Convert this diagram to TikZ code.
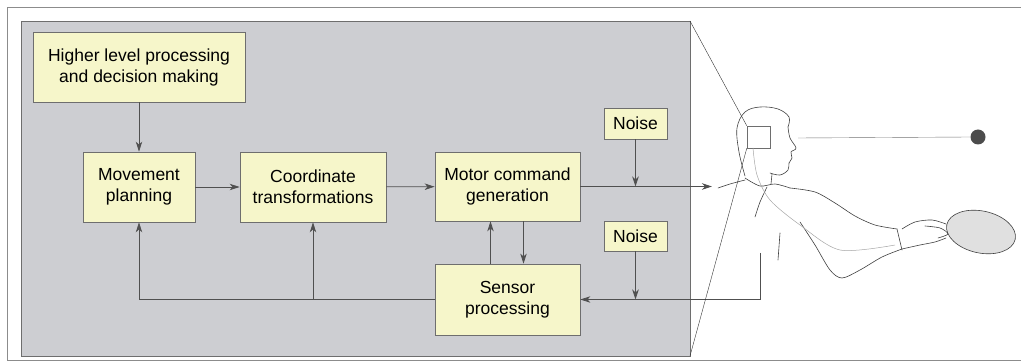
\documentclass[tikz,border=0pt]{standalone}
\usepackage{fontspec}
\setmainfont{Liberation Sans}
\usepackage{tikz}
\usetikzlibrary{arrows.meta}

\definecolor{panelgray}{RGB}{205,206,210}
\definecolor{boxyellow}{RGB}{246,246,202}
\definecolor{edgegray}{RGB}{110,110,110}
\definecolor{linegray}{RGB}{80,80,80}

\begin{document}
\begin{tikzpicture}[x=1pt, y=-1pt,
	block/.style={draw=edgegray, thick, fill=boxyellow, inner sep=0pt, align=center, font=\fontsize{17.5}{21}\selectfont},
	arr/.style={draw=linegray, thick, -{Stealth[length=10pt, width=6.5pt, inset=3pt]}},
	sketch/.style={draw=black!75, line width=0.6pt, line cap=round, line join=round}]
	\useasboundingbox (0,0) rectangle (1021,363);

	% frame and panel
	\draw[black!45] (1030,7) -- (7,7) -- (7,360) -- (1030,360);
	\draw[edgegray, thick, fill=panelgray] (21,21) rectangle (690,356);

	% blocks
	\node[block, minimum width=212pt, minimum height=70pt] (high) at (139,67) {Higher level processing\\and decision making};
	\node[block, minimum width=112pt, minimum height=70pt] (move) at (139,187) {Movement\\planning};
	\node[block, minimum width=146pt, minimum height=70pt] (coord) at (313,187) {Coordinate\\transformations};
	\node[block, minimum width=145pt, minimum height=69pt] (motor) at (507.5,186.5) {Motor command\\generation};
	\node[block, minimum width=145pt, minimum height=71pt] (sens) at (507.5,299.5) {Sensor\\processing};
	\node[block, minimum width=63pt, minimum height=31pt] (noiseA) at (635.5,123.5) {Noise};
	\node[block, minimum width=63pt, minimum height=30pt] (noiseB) at (635.5,236) {Noise};

	% connectors
	\coordinate (out) at (712,186.5);
	\coordinate (feel) at (760,253);
	\draw[arr] (high) -- (move);
	\draw[arr] (move) -- (coord);
	\draw[arr] (coord) -- (motor);
	\draw[arr] (motor) -- (out);
	\draw[arr] (noiseA) -- (noiseA |- motor.east);
	\draw[arr] (feel) |- (sens.east);
	\draw[arr] (noiseB) -- (noiseB |- sens.east);
	\draw[arr] ([xshift=16pt]motor.south) -- ([xshift=16pt]sens.north);
	\draw[arr] ([xshift=-17pt]sens.north) -- ([xshift=-17pt]motor.south);
	\draw[arr] (sens.west) -| (move.south);
	\draw[arr] (coord.south |- sens.west) -- (coord.south);

	% head box and zoom lines
	\node[draw=edgegray, fill=white, fill opacity=0.3, minimum width=23pt, minimum height=22pt, inner sep=0pt] (brain) at (758.5,137) {};
	\draw[black!80] (690,21) -- (brain.north west);
	\draw[black!80] (690,356) -- (brain.south west);

	% ball and gaze
	\node[circle, fill=black!70, minimum size=15pt, inner sep=0pt] (ball) at (978,137) {};
	\draw[black!55] (798,138) -- (ball.west);

	% person
	\draw[sketch] plot[smooth, tension=0.6] coordinates {(745,176) (739,152) (737,128) (745,112) (760,107) (778,109) (789,117) (788,127)};
	\draw[sketch] plot[smooth, tension=0.6] coordinates {(788,127) (790,138) (796,148) (791,152) (792,158) (789,163) (788,170) (780,175) (770,173)};
	\draw[sketch] (772,174) -- (771,184);
	\draw[sketch] plot[smooth] coordinates {(718,188) (730,184) (745,180)};
	\draw[sketch] plot[smooth] coordinates {(745,178) (760,186) (775,184) (790,188)};
	\draw[sketch] plot[smooth] coordinates {(767,187) (760,202) (755,217)};
	\draw[sketch] plot[smooth] coordinates {(790,188) (815,192) (835,203) (855,216) (875,225) (897,229)};
	\draw[sketch] plot[smooth] coordinates {(800,222) (815,245) (830,270) (842,278) (860,270) (882,257) (902,249)};
	\draw[sketch] (780,233) -- (778,260);
	\draw[sketch] (897,229) -- (902,250);
	\draw[sketch] plot[smooth] coordinates {(902,229) (915,222) (932,220) (946,224)};
	\draw[sketch] plot[smooth] coordinates {(902,249) (920,245) (935,242) (946,238)};
	\draw[black!35, line width=0.5pt] plot[smooth] coordinates {(753,148) (757,175) (770,200) (800,225) (840,250) (895,245)};
	\draw[sketch, fill=black!12, rotate around={-12:(981,232)}] (981,232) ellipse [x radius=35pt, y radius=21pt];
	\draw[sketch] plot[smooth] coordinates {(925,226) (940,228) (948,234) (938,238)};
\end{tikzpicture}
\end{document}
